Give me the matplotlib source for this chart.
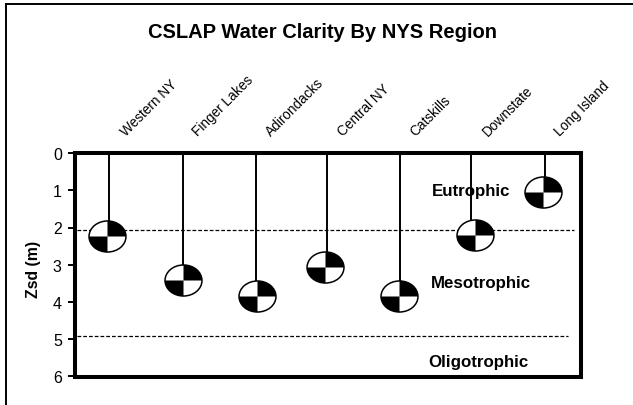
import matplotlib
matplotlib.use('Agg')
import matplotlib.pyplot as plt
from matplotlib.lines import Line2D
from matplotlib.path import Path
from matplotlib.transforms import Affine2D, ScaledTranslation

regions = ['Western NY', 'Finger Lakes', 'Adirondacks', 'Central NY', 'Catskills', 'Downstate', 'Long Island']
zsd = [2.22, 3.41, 3.84, 3.05, 3.85, 2.2, 1.05]
# the stems and disks were placed by hand, they are not quite on the category centres
stem_shift = [-0.025, 0.0, 0.0, -0.01, -0.01, -0.02, 0.0]
disk_shift = [-0.055, 0.0, 0.02, -0.045, -0.014, 0.035, -0.028]
zones = ['Eutrophic', 'Mesotrophic', 'Oligotrophic']
zone_x = [4.98, 5.11, 5.08]
zone_y = [1.0, 3.48, 5.6]
limit_y = [2.07, 4.9]
limit_end = [6.4, 6.32]

plt.rcParams['font.family'] = ['Liberation Sans', 'DejaVu Sans']

W, H = 633, 406
fig = plt.figure(figsize=(W / 100, H / 100), dpi=100)
ax = fig.add_axes([75 / W, 1 - 377.5 / H, (581 - 75) / W, (377.5 - 154) / H])

squash = Affine2D().scale(1, 0.84)
disk = squash.transform_path(Path.unit_circle())
quads = squash.transform_path(Path.make_compound_path(Path.wedge(0, 90), Path.wedge(180, 270)))

x = list(range(len(regions)))
stem_x = [a + b for a, b in zip(x, stem_shift)]
disk_x = [a + b for a, b in zip(x, disk_shift)]
ax.vlines(stem_x, 0, zsd, color='black', lw=1.4, zorder=3)
for y, end in zip(limit_y, limit_end):
    ax.hlines(y, -0.47, end, color='black', ls=(0, (3, 1.6)), lw=0.9, zorder=2)

ms = 26.6
ax.plot(disk_x, zsd, ls='none', marker=disk, ms=ms, mfc='white', mec='black', mew=1.1, zorder=4)
ax.plot(disk_x, zsd, ls='none', marker=quads, ms=ms, mfc='black', mec='black', mew=0, zorder=5)

ax.set_xlim(-0.5, 6.5)
ax.set_ylim(6, 0)
ax.set_yticks(range(7))
ax.tick_params(axis='y', labelsize=11.5, width=1.4, length=5, direction='out', pad=4.5)
ax.set_ylabel('Zsd (m)', fontsize=11.3, fontweight='bold')
ax.yaxis.set_label_coords(-0.068, 0.482)

ax.xaxis.tick_top()
ax.set_xticks(x)
ax.set_xticklabels(regions, rotation=45, ha='left', va='bottom', rotation_mode='anchor', fontsize=9.8)
ax.tick_params(axis='x', length=0, pad=12)
shift = ScaledTranslation(17 / 100, -2 / 100, fig.dpi_scale_trans)
for lab in ax.get_xticklabels():
    lab.set_transform(lab.get_transform() + shift)

for s in ax.spines.values():
    s.set_linewidth(2.9)

for name, zx, zy in zip(zones, zone_x, zone_y):
    ax.text(zx, zy, name, ha='center', va='center', fontsize=12.2, fontweight='bold', zorder=6)

fig.text(322.5 / W, 1 - 32 / H, 'CSLAP Water Clarity By NYS Region', ha='center', va='center',
         fontsize=14.5, fontweight='bold')

# outer chart frame, only top and left are inside the picture
fig.add_artist(Line2D([6 / W, 6 / W], [0, 1 - 5 / H], color='black', lw=1.4))
fig.add_artist(Line2D([6 / W, 1], [1 - 5 / H, 1 - 5 / H], color='black', lw=1.4))

fig.savefig('out.png', dpi=100)
